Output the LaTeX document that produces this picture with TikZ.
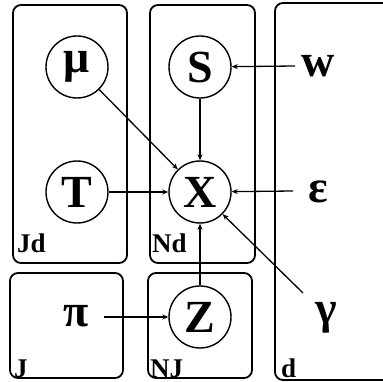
\documentclass[tikz,border=0pt]{standalone}
\usepackage{fontspec}
\setmainfont{Liberation Serif}
\usetikzlibrary{arrows.meta}
\begin{document}
\begin{tikzpicture}[x=1pt,y=-1pt,
  plate/.style={draw,line width=1.8pt,rounded corners=8pt},
  var/.style={draw,circle,line width=1.4pt,minimum size=62pt,inner sep=0pt,font=\fontsize{46}{46}\selectfont\bfseries},
  free/.style={inner sep=0pt,font=\fontsize{46}{46}\selectfont\bfseries},
  lab/.style={anchor=base west,inner sep=0pt,font=\fontsize{27}{27}\selectfont\bfseries},
  edge/.style={line width=1.3pt,-{Stealth[length=6pt,width=5pt]}}]
\useasboundingbox (0,0) rectangle (383,382);
% plates
\draw[plate] (13,5) rectangle (127,263);
\draw[plate] (150,5) rectangle (255,263);
\draw[plate] (10,273) rectangle (123,378);
\draw[plate] (148,273) rectangle (252,378);
\draw[plate] (385,3) -- (275,3) -- (275,380) -- (385,380);
\node[lab] (lJd) at (17,253) {Jd};
\node[lab] (lNd) at (152,253) {Nd};
\node[lab] (lJ) at (14,377) {J};
\node[lab] (lNJ) at (150,377) {NJ};
\node[lab] (ld) at (281,377) {d};
% variables
\node[var] (mu) at (77,67) {μ};
\node[var] (S) at (200,67) {S};
\node[var] (T) at (77,192) {T};
\node[var] (X) at (200,192) {X};
\node[var] (Z) at (200,317) {Z};
\node[free] (pi) at (76,316) {π};
\node[free] (w) at (318,66) {w};
\node[free] (eps) at (318,192) {ε};
\node[free] (gam) at (326,318) {γ};
\coordinate (ws) at (295,66);
\coordinate (es) at (293,191);
\coordinate (gs) at (303,293);
\coordinate (ps) at (104,317);
% edges
\draw[edge] (ws) -- (S);
\draw[edge] (es) -- (X);
\draw[edge] (gs) -- (X);
\draw[edge] (ps) -- (Z);
\draw[edge] (mu) -- (X);
\draw[edge] (T) -- (X);
\draw[edge] (S) -- (X);
\draw[edge] (Z) -- (X);
\end{tikzpicture}
\end{document}
